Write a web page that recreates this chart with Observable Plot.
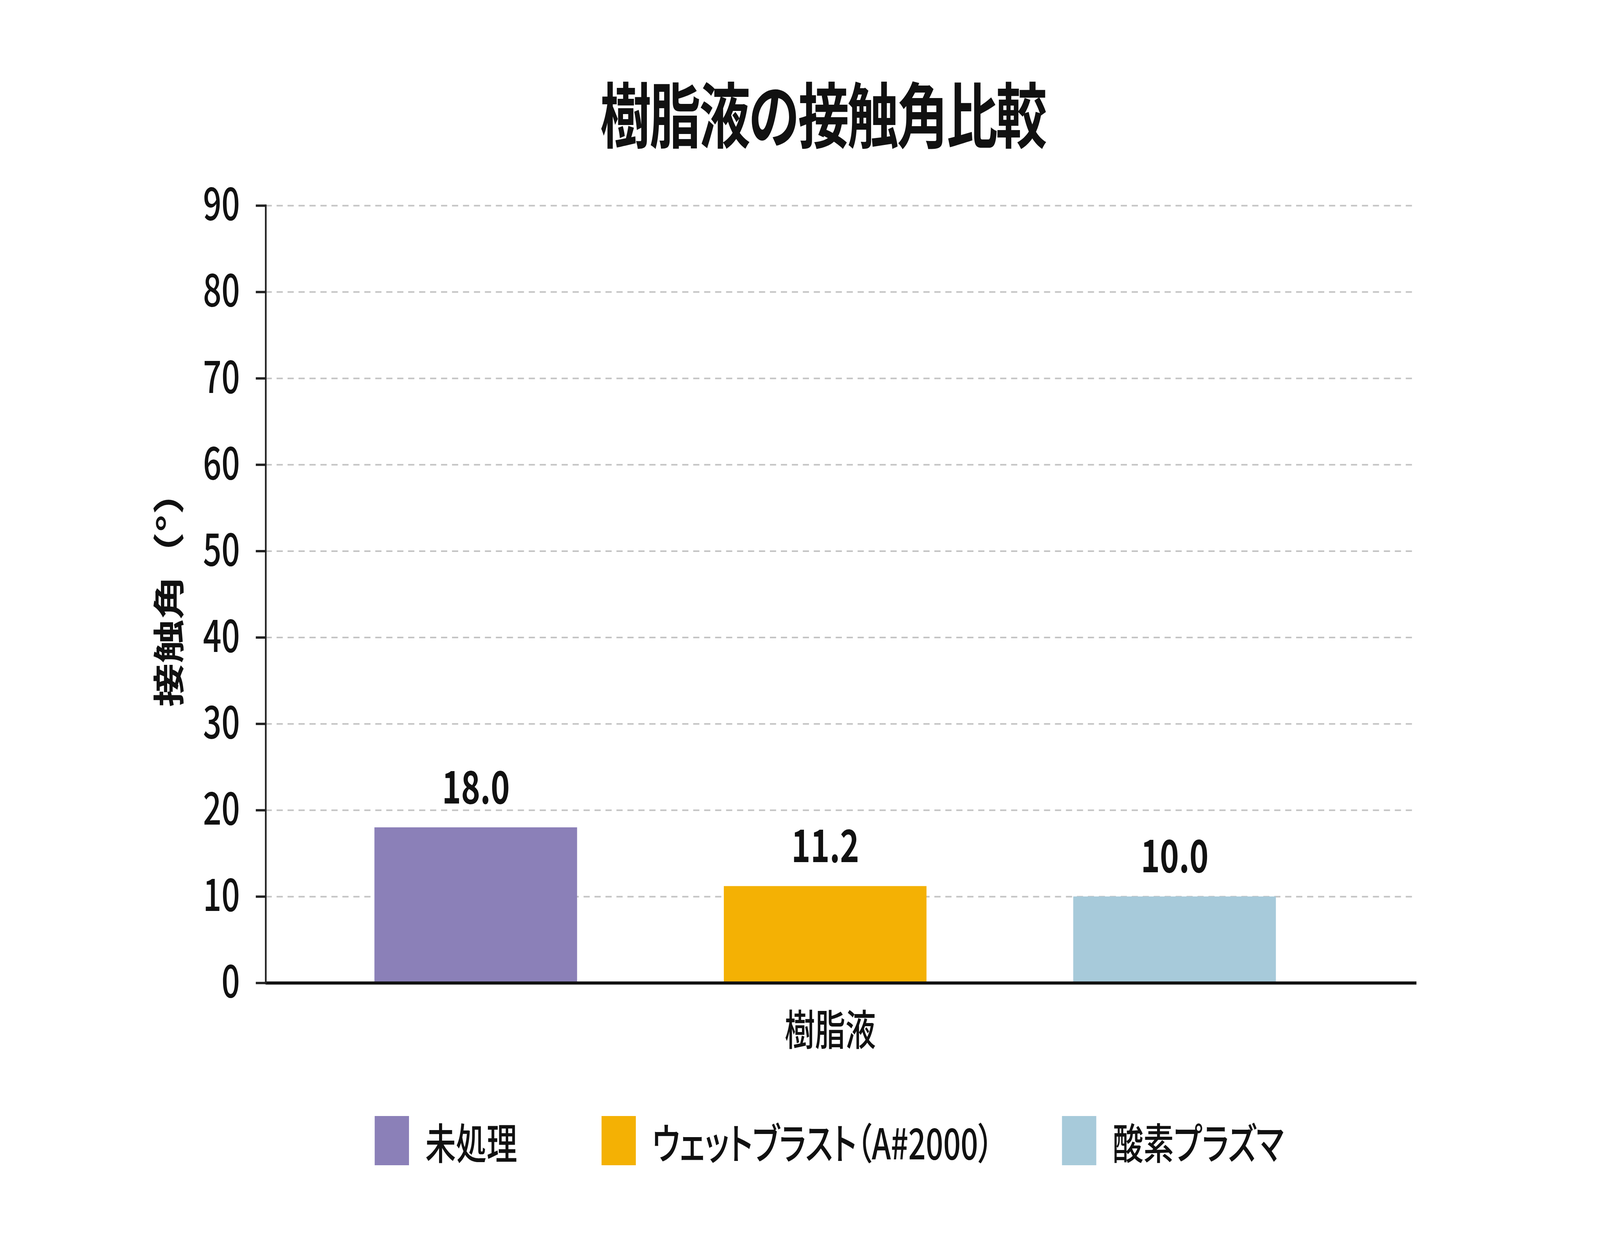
<!DOCTYPE html>
<html>
<head>
<meta charset="utf-8">
<script src="https://cdn.jsdelivr.net/npm/d3@7"></script>
<script src="https://cdn.jsdelivr.net/npm/@observablehq/plot@0.6"></script>
<style>
  html, body { margin: 0; padding: 0; background: #ffffff; overflow: hidden; }
  #page { width: 5692px; height: 3200px; position: absolute; left: 0; top: 0; transform-origin: 0 0;
         font-family: "Noto Sans CJK JP", "Noto Sans", sans-serif; color: #111; background: #fff; }
  #title { position: absolute; left: 2927px; top: 194px; transform: translateX(-50%);
           font-size: 182px; font-weight: 700; line-height: 1; white-space: nowrap;
           letter-spacing: -6px; }
  #chart { position: absolute; left: 0; top: 430px; }
  #legend { position: absolute; left: 1333px; top: 2857px; display: flex; align-items: center;
            font-size: 109px; font-weight: 500; line-height: 1; white-space: nowrap;
            font-feature-settings: "palt"; }
  .item { display: flex; align-items: center; gap: 58px; }
  .sw { width: 122px; height: 126px; display: inline-block; }
</style>
</head>
<body>
<div id="page">
<div id="title"></div>
<div id="chart"></div>
<div id="legend"></div>
</div>
<script>
const title = "樹脂液の接触角比較";
const xLabel = "樹脂液";
const yLabel = "接触角（°）";
const categories = ["未処理", "ウェットブラスト（A#2000）", "酸素プラズマ"];
const values = [18.0, 11.2, 10.0];
const colors = ["#8b80b8", "#f4b104", "#a7cada"];
const yTicks = [0, 10, 20, 30, 40, 50, 60, 70, 80, 90];

const data = categories.map((c, i) => ({series: c, value: values[i]}));

document.getElementById("title").textContent = title;

const chart = Plot.plot({
  width: 5692,
  height: 2330,
  marginLeft: 945,
  marginRight: 653,
  marginTop: 96,
  marginBottom: 244,
  style: {fontFamily: "'Noto Sans CJK JP', 'Noto Sans', sans-serif", background: "transparent", color: "#111"},
  x: {domain: categories, range: [1070, 4800], paddingInner: 0.42, paddingOuter: 0.21, axis: null},
  y: {domain: [0, 90]},
  color: {domain: categories, range: colors},
  marks: [
    Plot.gridY(yTicks.filter(d => d > 0), {stroke: "#c4c4c4", strokeOpacity: 1, strokeWidth: 4, strokeDasharray: "22,17"}),
    Plot.barY(data, {x: "series", y: "value", fill: "series"}),
    Plot.axisY(yTicks, {tickSize: 35, tickPadding: 57, fontSize: 115, fontWeight: 500, stroke: "#222", strokeWidth: 6, label: null}),
    Plot.ruleY([0], {stroke: "#111", strokeWidth: 8}),
    Plot.frame({anchor: "left", stroke: "#222", strokeWidth: 6}),
    Plot.text(data, {x: "series", y: "value", text: d => d.value.toFixed(1), dy: -62, lineAnchor: "bottom", fontSize: 115, fontWeight: 700, fill: "#111"}),
    Plot.text([yLabel], {frameAnchor: "left", textAnchor: "middle", lineAnchor: "middle", rotate: -90, dx: -339, dy: -14, fontSize: 112, fontWeight: 700, fill: "#111"}),
    Plot.text([xLabel], {frameAnchor: "bottom", textAnchor: "middle", dy: 159, dx: -39, fontSize: 108, fontWeight: 500, fill: "#111"})
  ]
});
document.getElementById("chart").appendChild(chart);

const legendGaps = [300, 244, 0];
const legend = document.getElementById("legend");
categories.forEach((c, i) => {
  const item = document.createElement("div");
  item.className = "item";
  item.style.marginRight = legendGaps[i] + "px";
  const sw = document.createElement("span");
  sw.className = "sw";
  sw.style.background = colors[i];
  const lab = document.createElement("span");
  lab.textContent = c;
  item.appendChild(sw);
  item.appendChild(lab);
  legend.appendChild(item);
});

function fit() {
  const sx = window.innerWidth / 5692, sy = window.innerHeight / 3200;
  document.getElementById("page").style.transform = `scale(${sx}, ${sy})`;
}
fit();
window.addEventListener("resize", fit);
</script>
</body>
</html>
